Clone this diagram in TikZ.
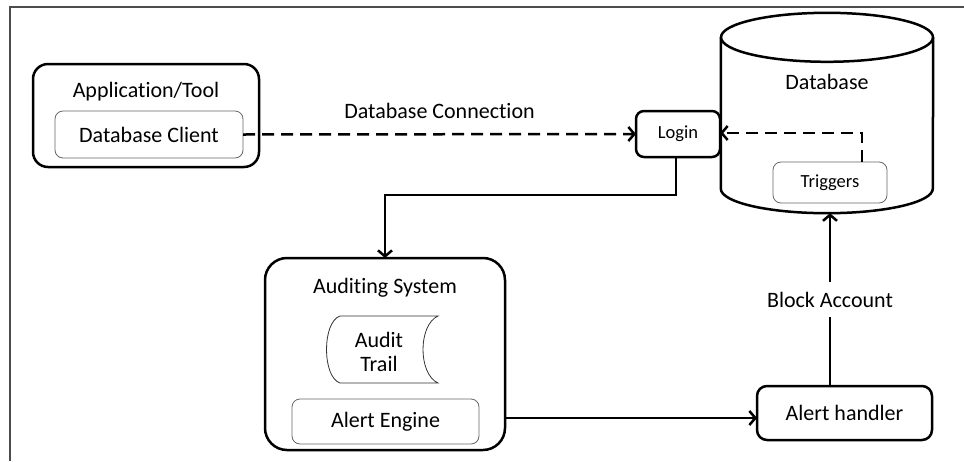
\documentclass[tikz,border=0pt]{standalone}
\usepackage{fontspec}
\setmainfont{Carlito}[Ligatures=NoCommon]
\usetikzlibrary{arrows.meta}

\begin{document}
\begin{tikzpicture}[x=1pt,y=-1pt,font=\fontsize{22}{24}\selectfont]
	\useasboundingbox (0,0) rectangle (964,461);
	\tikzstyle{Block}=[draw,line width=2.5pt,rounded corners=12pt,inner sep=0pt,outer sep=0pt]
	\tikzstyle{Part}=[draw=black!60,line width=0.8pt,rounded corners=8pt,inner sep=0pt,outer sep=0pt]
	\tikzstyle{Flow}=[line width=2.5pt,-{Straight Barb[length=6pt,width=14pt]}]
	\tikzstyle{Call}=[Flow,dash pattern=on 12pt off 7pt]
	\tikzstyle{Small}=[font=\fontsize{18.5}{22}\selectfont]
	% frame
	\draw[black!70,line width=1.5pt] (964,7) -- (10,7) -- (10,461);
	% client side
	\node[Block,rounded corners=15pt,minimum width=226pt,minimum height=103pt] (app) at (146,115.5) {};
	\node (apptitle) at (146,92) {Application/Tool};
	\node[Part,minimum width=188pt,minimum height=47pt] (client) at (149,134.5) {Database Client};
	% database drum
	\node[inner sep=0pt,minimum width=212pt,minimum height=200pt] (db) at (827,113) {};
	\draw[line width=2.5pt] (db.north west) ++(0,24.5) -- ([yshift=24.5pt]db.south west)
		arc[start angle=180,end angle=0,x radius=106,y radius=24.5] -- ([yshift=-24.5pt]db.north east);
	\draw[line width=2.5pt] ([yshift=-24.5pt]db.north) ellipse[x radius=106,y radius=24.5];
	\node (dbtitle) at (827,82) {Database};
	\node[Part,Small,minimum width=114pt,minimum height=41pt] (triggers) at (830,182.5) {Triggers};
	\node[Block,Small,rounded corners=8pt,minimum width=84pt,minimum height=46pt] (login) at (678,134) {Login};
	% auditing
	\node[Block,rounded corners=22pt,minimum width=240pt,minimum height=192pt] (audit) at (385,354) {};
	\node (audittitle) at (385,288) {Auditing System};
	\draw[black!80,line width=0.8pt] (340,316) -- (438,316)
		.. controls (418,325) and (418,374) .. (438,383) -- (340,383)
		.. controls (322,377) and (322,322) .. (340,316);
	\node[align=center] (trail) at (379,352) {Audit\\Trail};
	\node[Part,minimum width=187pt,minimum height=45pt] (engine) at (385.5,421.5) {Alert Engine};
	\node[Block,rounded corners=10pt,minimum width=175pt,minimum height=54pt] (handler) at (844.5,413) {Alert handler};
	% connections
	\draw[Call] (client.east) -- (login.west) node[midway,above=14pt,inner sep=0pt] {Database Connection};
	\draw[Call] ([xshift=32pt]triggers.north) |- ([yshift=1pt]login.east);
	\draw[Flow] ([xshift=-2pt]login.south) -- ++(0,38) -| (audit.north);
	\draw[Flow] ([yshift=-5pt]handler.west -| audit.east) -- ([yshift=-5pt]handler.west);
	\draw[Flow] ([xshift=-14.5pt]handler.north) -- ([xshift=-14.5pt]handler.north |- db.south)
		node[midway,fill=white,inner xsep=2pt,inner ysep=10pt] {Block Account};
\end{tikzpicture}
\end{document}
